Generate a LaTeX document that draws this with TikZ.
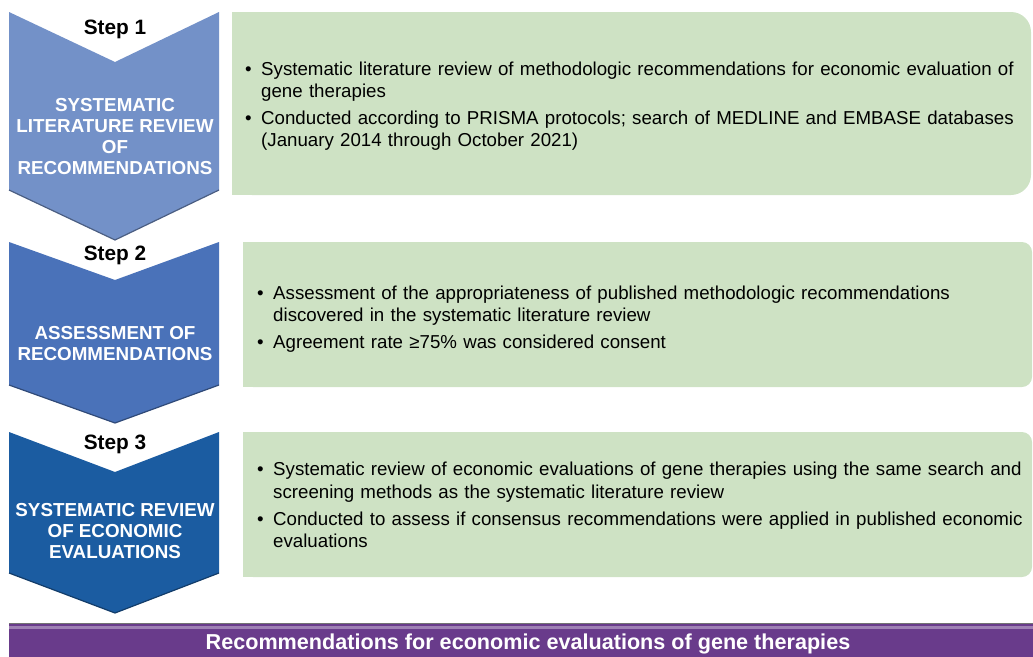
\documentclass[tikz,border=0pt]{standalone}
\usepackage{fontspec}
\setmainfont{Liberation Sans}

\definecolor{stepA}{HTML}{7391C8}
\definecolor{stepB}{HTML}{4A72B9}
\definecolor{stepC}{HTML}{1B5CA1}
\definecolor{noteGreen}{HTML}{CEE2C4}
\definecolor{barPurple}{HTML}{693B8B}

% one bullet point with hanging indent
\newcommand{\bitem}[1]{\noindent\hangindent=16pt\hangafter=1\makebox[16pt][l]{\textbullet}#1\par}

\tikzset{
  steplabel/.style={font=\bfseries\fontsize{20.8}{24}\selectfont, text=black},
  steptext/.style={align=center, text=white, font=\bfseries\fontsize{18.8}{21}\selectfont},
  notetext/.style={anchor=west, inner sep=0pt, text width=790pt,
    font=\fontsize{18.7}{22.3}\selectfont\setlength{\parskip}{4.5pt}},
  bartext/.style={text=white, font=\bfseries\fontsize{21.6}{24}\selectfont}
}

\begin{document}
\begin{tikzpicture}[x=1pt,y=-1pt]
  \useasboundingbox (0,0) rectangle (1033,656);

  % chevrons
  \fill[stepA] (9,12) -- (115,62) -- (219,12) -- (219,190) -- (115,240) -- (9,190) -- cycle;
  \draw[stepA!65!black, line width=1.2pt] (219,190) -- (115,240) -- (9,190);
  \fill[stepB] (9,242) -- (115,280) -- (219,242) -- (219,385) -- (115,423) -- (9,385) -- cycle;
  \draw[stepB!65!black, line width=1.2pt] (219,385) -- (115,423) -- (9,385);
  \fill[stepC] (9,432) -- (115,472) -- (219,432) -- (219,573) -- (115,613) -- (9,573) -- cycle;
  \draw[stepC!65!black, line width=1.2pt] (219,573) -- (115,613) -- (9,573);

  % green boxes, rounded on the right only
  \fill[noteGreen, rounded corners=20pt] (232,12) rectangle (1031,195);
  \fill[noteGreen] (232,12) rectangle (700,195);
  \fill[noteGreen, rounded corners=10pt] (243,242) rectangle (1032,387);
  \fill[noteGreen] (243,242) rectangle (700,387);
  \fill[noteGreen, rounded corners=10pt] (243,432) rectangle (1032,577);
  \fill[noteGreen] (243,432) rectangle (700,577);

  % bottom bar
  \fill[barPurple] (9,623) rectangle (1033,660);
  \fill[barPurple!65!white] (9,625.5) rectangle (1033,628.5);
  \draw[black!55, line width=1pt] (9,623) -- (1033,623);

  % step labels
  \node[steplabel] (lab1) at (115,29) {Step 1};
  \node[steplabel] (lab2) at (115,255) {Step 2};
  \node[steplabel] (lab3) at (115,444) {Step 3};

  \node[steptext] (name1) at (115,137) {SYSTEMATIC\\LITERATURE REVIEW\\OF\\RECOMMENDATIONS};
  \node[steptext] (name2) at (115,344) {ASSESSMENT OF\\RECOMMENDATIONS};
  \node[steptext] (name3) at (115,531) {SYSTEMATIC REVIEW\\OF ECONOMIC\\EVALUATIONS};

  % descriptions
  \node[notetext] (note1) at (245,106) {%
    \bitem{Systematic literature review of methodologic recommendations for economic evaluation of\newline gene therapies}
    \bitem{Conducted according to PRISMA protocols; search of MEDLINE and EMBASE databases\newline (January 2014 through October 2021)}};
  \node[notetext] (note2) at (257,319) {%
    \bitem{Assessment of the appropriateness of published methodologic recommendations\newline discovered in the systematic literature review}
    \bitem{Agreement rate \symbol{"2265}75\% was considered consent}};
  \node[notetext] (note3) at (257,505) {%
    \bitem{Systematic review of economic evaluations of gene therapies using the same search and\newline screening methods as the systematic literature review}
    \bitem{Conducted to assess if consensus recommendations were applied in published economic\newline evaluations}};

  \node[bartext] (result) at (528,644) {Recommendations for economic evaluations of gene therapies};
\end{tikzpicture}
\end{document}
